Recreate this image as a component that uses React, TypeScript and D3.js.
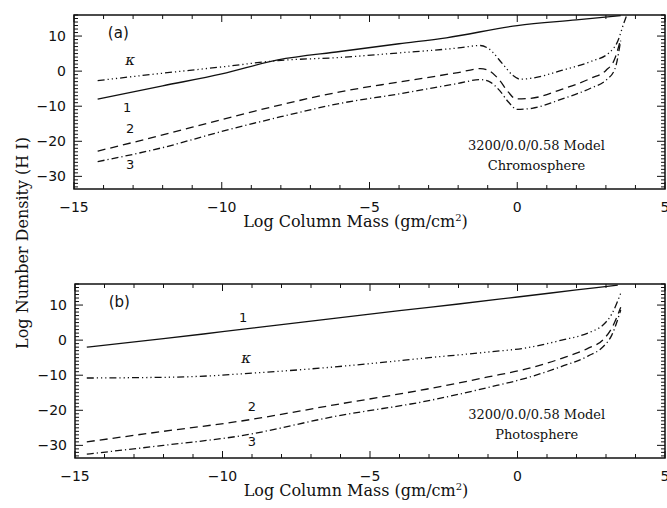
import React from "react";
import * as d3 from "d3";

type Pt = [number, number];

// panel (a) chromosphere
const chromoN1: Pt[] = [[-14.2, -8], [-12, -4.2], [-10, -0.8], [-8.1, 3.2], [-6, 5.6], [-4, 7.8], [-2.4, 9.5], [0, 13], [2, 14.6], [3.5, 15.8]];
const chromoKappa: Pt[] = [[-14.2, -2.7], [-12, -0.6], [-10, 1.2], [-8.1, 3.0], [-6, 3.9], [-4, 5.2], [-2, 6.6], [-1.25, 7.3], [-0.95, 6.3], [-0.5, 2.1], [-0.15, -1.2], [0.1, -2.3], [0.5, -2.0], [1.5, 0.2], [2.5, 2.8], [3.1, 5.2], [3.4, 8.5], [3.6, 13.5], [3.7, 15.8]];
const chromoN2: Pt[] = [[-14.2, -22.8], [-12, -18.2], [-10, -13.8], [-8, -9.6], [-6, -5.9], [-4, -3.1], [-2, -0.4], [-1.25, 0.7], [-0.95, 0.1], [-0.6, -2.6], [-0.3, -6], [-0.05, -7.9], [0.4, -7.8], [1.5, -5.2], [2.5, -2.0], [3.0, 0.2], [3.3, 3.5], [3.5, 9.2]];
const chromoN3: Pt[] = [[-14.2, -25.8], [-12, -21.8], [-10, -17.2], [-8, -13.0], [-6, -9.2], [-4, -6.5], [-2, -3.5], [-1.25, -2.4], [-0.9, -3.2], [-0.6, -5.5], [-0.3, -8.8], [0, -10.9], [0.5, -10.6], [1.5, -8], [2.5, -4.8], [3.0, -2.6], [3.3, 0.5], [3.5, 8.7]];

// panel (b) photosphere
const photoN1: Pt[] = [[-14.6, -2], [-12, 0.4], [-10, 2.4], [-8, 4.4], [-6, 6.4], [-4, 8.4], [-2, 10.3], [0, 12.3], [2, 14.3], [3.4, 15.7]];
const photoKappa: Pt[] = [[-14.6, -10.8], [-13, -10.7], [-11, -10.4], [-9, -9.4], [-7, -8.2], [-5, -6.7], [-3, -5.0], [-1, -3.4], [0.3, -2.2], [1.5, 0], [2.5, 2.4], [2.9, 4.3], [3.2, 7.5], [3.5, 13.4]];
const photoN2: Pt[] = [[-14.6, -29], [-12, -26], [-9.4, -23.1], [-6.1, -18.3], [-3.1, -14], [-1, -10.5], [0.3, -8.2], [1.5, -5.2], [2.4, -2.3], [2.9, 0.1], [3.2, 3.5], [3.5, 9.4]];
const photoN3: Pt[] = [[-14.6, -32.5], [-12, -30], [-9.4, -27.3], [-6.1, -21.6], [-3.1, -17.4], [-1, -13.5], [0.3, -10.8], [1.5, -7.5], [2.4, -4.5], [2.9, -1.9], [3.2, 1.5], [3.5, 8.6]];

const xMajor = [-15, -10, -5, 0, 5];
const yMajor = [-30, -20, -10, 0, 10];
const xDomain: Pt = [-15, 5];
const yDomain: Pt = [-33.6, 16];

const DASH = "8,5";
const DASH_DOT = "7,3,1.2,3";
const DASH_3DOT = "7,3,1.2,3,1.2,3,1.2,3";

const sans = "DejaVu Sans, sans-serif";
const serif = "DejaVu Serif, serif";

type Curve = { pts: Pt[]; dash?: string };
type Label = { x: number; y: number; text: string; italic?: boolean };

function Panel(props: {
  top: number; bottom: number; left: number; right: number;
  curves: Curve[]; labels: Label[]; letter: string; caption: string[];
}) {
  const { top, bottom, left, right, curves, labels, letter, caption } = props;
  const x = d3.scaleLinear().domain(xDomain).range([left, right]);
  const y = d3.scaleLinear().domain(yDomain).range([bottom, top]);
  const line = d3.line<Pt>().x(d => x(d[0])).y(d => y(d[1])).curve(d3.curveMonotoneX);
  const xMinor = d3.range(-15, 5.01, 1);
  const yMinor = d3.range(-33, 16.01, 1);
  const fmt = (v: number) => String(v).replace("-", "\u2212");

  return (
    <g>
      <defs>
        <clipPath id={`clip-${letter}`}>
          <rect x={left} y={top - 1} width={right - left} height={bottom - top + 2} />
        </clipPath>
      </defs>
      <g clipPath={`url(#clip-${letter})`}>
        {curves.map((c, i) => (
          <path key={i} d={line(c.pts) || ""} fill="none" stroke="#111" strokeWidth={1.3} strokeDasharray={c.dash} />
        ))}
      </g>
      <rect x={left} y={top} width={right - left} height={bottom - top} fill="none" stroke="#111" strokeWidth={1.5} />
      <g stroke="#111" strokeWidth={1}>
        {xMinor.map(v => {
          const len = xMajor.includes(v) ? 7 : 4;
          return (
            <g key={`x${v}`}>
              <line x1={x(v)} x2={x(v)} y1={bottom} y2={bottom - len} />
              <line x1={x(v)} x2={x(v)} y1={top} y2={top + len} />
            </g>
          );
        })}
        {yMinor.map(v => {
          const len = yMajor.includes(v) ? 8 : 4;
          return (
            <g key={`y${v}`}>
              <line x1={left} x2={left + len} y1={y(v)} y2={y(v)} />
              <line x1={right} x2={right - len} y1={y(v)} y2={y(v)} />
            </g>
          );
        })}
      </g>
      <g fontFamily={sans} fontSize={14} fill="#111">
        {xMajor.map(v => (
          <text key={v} x={x(v)} y={bottom + 23} textAnchor="middle">{fmt(v)}</text>
        ))}
        {yMajor.map(v => (
          <text key={v} x={left - 8} y={y(v)} dy="0.36em" textAnchor="end">{fmt(v)}</text>
        ))}
      </g>
      <text x={x(-13.5)} y={y(11)} dy="0.36em" textAnchor="middle" fontFamily={sans} fontSize={15} fill="#111">({letter})</text>
      {labels.map((l, i) => (
        <text key={i} x={x(l.x)} y={y(l.y)} dy="0.36em" textAnchor="middle"
          fontFamily={l.italic ? serif : sans} fontStyle={l.italic ? "italic" : "normal"}
          fontSize={l.italic ? 15 : 13} fill="#111">{l.text}</text>
      ))}
      <g fontFamily={serif} fontSize={13} fill="#111" textAnchor="middle">
        <text x={x(0.65)} y={y(-22.5)}>{caption[0]}</text>
        <text x={x(0.65)} y={y(-28.2)}>{caption[1]}</text>
      </g>
      <text x={(left + right) / 2 - 14} y={bottom + 38} textAnchor="middle" fontFamily={serif} fontSize={16} fill="#111">
        Log Column Mass (gm/cm<tspan dy={-6} fontSize={10}>2</tspan><tspan dy={6}>)</tspan>
      </text>
    </g>
  );
}

export default function App() {
  return (
    <svg width={667} height={508} style={{ position: "absolute", left: 0, top: 0, background: "#fff" }}>
      <rect width={667} height={508} fill="#fff" />
      <Panel top={15} bottom={189} left={74} right={665} letter="a"
        curves={[
          { pts: chromoN1 },
          { pts: chromoKappa, dash: DASH_3DOT },
          { pts: chromoN2, dash: DASH },
          { pts: chromoN3, dash: DASH_DOT },
        ]}
        labels={[
          { x: -13.1, y: 3.3, text: "\u03ba", italic: true },
          { x: -13.2, y: -10.3, text: "1" },
          { x: -13.1, y: -16.3, text: "2" },
          { x: -13.1, y: -26.7, text: "3" },
        ]}
        caption={["3200/0.0/0.58 Model", "Chromosphere"]} />
      <Panel top={284} bottom={458} left={75} right={665} letter="b"
        curves={[
          { pts: photoN1 },
          { pts: photoKappa, dash: DASH_3DOT },
          { pts: photoN2, dash: DASH },
          { pts: photoN3, dash: DASH_DOT },
        ]}
        labels={[
          { x: -9.3, y: 6.6, text: "1" },
          { x: -9.2, y: -5, text: "\u03ba", italic: true },
          { x: -9.0, y: -18.9, text: "2" },
          { x: -9.0, y: -28.8, text: "3" },
        ]}
        caption={["3200/0.0/0.58 Model", "Photosphere"]} />
      <text transform="translate(22,243) rotate(-90)" textAnchor="middle" dy="0.36em"
        fontFamily={serif} fontSize={16} fill="#111">Log Number Density (H I)</text>
    </svg>
  );
}
